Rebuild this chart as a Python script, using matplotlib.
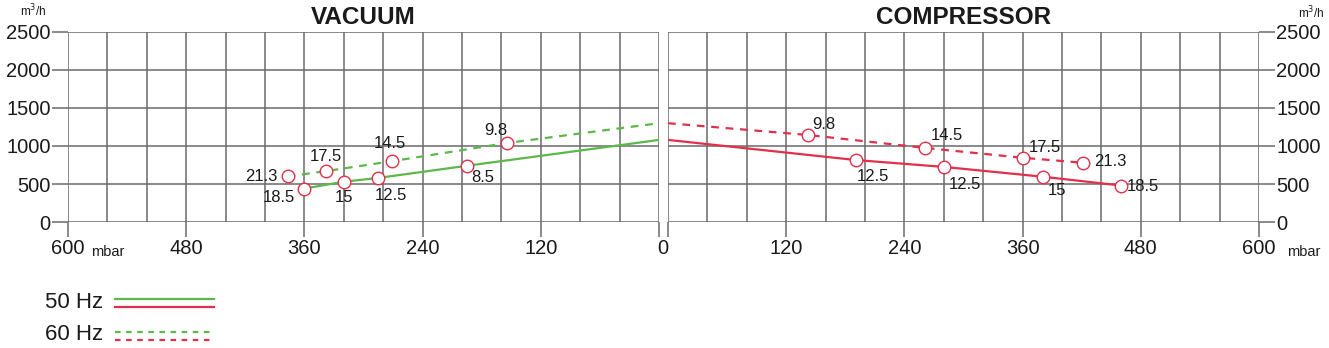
import matplotlib.pyplot as plt
import matplotlib.transforms as mtransforms
from matplotlib.lines import Line2D
from matplotlib.ticker import MultipleLocator

plt.rcParams['font.family'] = ['Liberation Sans', 'DejaVu Sans']

# colours picked off the original sheet
GREEN = '#5cb84a'
RED = '#e0304a'
GRID = '#6a6a6a'
TXT = '#1a1a1a'

# vacuum side, pressure in mbar, flow in m3/h (last point = line end at 0 mbar, no marker)
vac50_p = [360, 320, 285, 195, 0]
vac50_q = [440, 530, 580, 740, 1080]
vac50_kw = ['18.5', '15', '12.5', '8.5', '']
vac60_p = [377, 338, 271, 154, 0]
vac60_q = [600, 670, 800, 1040, 1300]
vac60_kw = ['21.3', '17.5', '14.5', '9.8', '']

# compressor side (first point = line start at 0 mbar, no marker)
com50_p = [0, 191, 280, 381, 460]
com50_q = [1080, 815, 725, 595, 480]
com50_kw = ['', '12.5', '12.5', '15', '18.5']
com60_p = [0, 142, 261, 360, 421]
com60_q = [1300, 1145, 975, 845, 780]
com60_kw = ['', '9.8', '14.5', '17.5', '21.3']

x_ticks = [0, 120, 240, 360, 480, 600]
y_ticks = [0, 500, 1000, 1500, 2000, 2500]

# label offsets in points (dx, dy, ha), same order as the points
vac50_off = [(-7, -6.5, 'right'), (0, -11.5, 'center'), (9, -13, 'center'), (11.5, -8.6, 'center'), None]
vac60_off = [(-7, 0, 'right'), (0, 10.5, 'center'), (-1.5, 13, 'center'), (-8, 9, 'center'), None]
com50_off = [None, (12, -11.5, 'center'), (15, -13, 'center'), (10, -10, 'center'), (4, -0.5, 'left')]
com60_off = [None, (11.5, 7.5, 'center'), (16, 8.6, 'center'), (16, 7.5, 'center'), (8, 0.7, 'left')]

fig = plt.figure(figsize=(13.29, 3.48), dpi=100)
ax_v = fig.add_axes([68 / 1329, 126 / 348, 591 / 1329, 190 / 348])
ax_c = fig.add_axes([668 / 1329, 126 / 348, 591 / 1329, 190 / 348])


def setup(ax, side):
    ax.set_ylim(0, 2500)
    ax.set_xticks(x_ticks)
    ax.set_yticks(y_ticks)
    ax.xaxis.set_minor_locator(MultipleLocator(40))
    ax.grid(True, which='both', color=GRID, lw=1.1)
    ax.tick_params(axis='x', which='major', length=11, width=1.1, color=GRID,
                   labelsize=14.5, labelcolor=TXT, pad=1.5)
    ax.tick_params(axis='x', which='minor', length=0)
    ax.tick_params(axis='y', length=11.5, width=1.1, color=GRID,
                   labelsize=14.5, labelcolor=TXT, pad=1)
    for s in ax.spines.values():
        s.set_visible(False)
    ax.set_axisbelow(True)
    if side == 'right':
        ax.yaxis.tick_right()


def curve(ax, p, q, kw, offs, color, ls):
    ax.plot(p, q, color=color, lw=1.6, ls=ls, dashes=(3.5, 3) if ls == '--' else (None, None),
            zorder=3)
    for x, y, k, o in zip(p, q, kw, offs):
        if o is None:
            continue
        ax.plot(x, y, 'o', ms=9, mfc='white', mec=RED, mew=1.0, zorder=4)
        ax.annotate(k, (x, y), xytext=(o[0], o[1]), textcoords='offset points',
                    ha=o[2], va='center', fontsize=12, color=TXT, zorder=5)


setup(ax_v, 'left')
ax_v.set_xlim(600, 0)
ax_v.set_title('VACUUM', fontsize=17.5, fontweight='bold', color=TXT, pad=6)
curve(ax_v, vac50_p, vac50_q, vac50_kw, vac50_off, GREEN, '-')
curve(ax_v, vac60_p, vac60_q, vac60_kw, vac60_off, GREEN, '--')

setup(ax_c, 'right')
ax_c.set_xlim(0, 600)
# the shared 0 is printed once, by the vacuum panel, nudged to sit between both panels
ax_c.set_xticklabels([''] + [str(t) for t in x_ticks[1:]])
fig.canvas.draw()
zero_lbl = ax_v.get_xticklabels()[0]
zero_lbl.set_transform(zero_lbl.get_transform() +
                       mtransforms.ScaledTranslation(4 / 100, 0, fig.dpi_scale_trans))
ax_c.set_title('COMPRESSOR', fontsize=17.5, fontweight='bold', color=TXT, pad=6)
curve(ax_c, com50_p, com50_q, com50_kw, com50_off, RED, '-')
curve(ax_c, com60_p, com60_q, com60_kw, com60_off, RED, '--')

# unit labels
fig.text(20 / 1329, 1 - 11 / 348, 'm$^3$/h', fontsize=8.5, color=TXT, va='center')
fig.text(1298 / 1329, 1 - 13 / 348, 'm$^3$/h', fontsize=8.5, color=TXT, va='center')
fig.text(91 / 1329, 1 - 252 / 348, 'mbar', fontsize=10.5, color=TXT, va='center')
fig.text(1287 / 1329, 1 - 252 / 348, 'mbar', fontsize=10.5, color=TXT, va='center')

# legend drawn by hand: two stacked lines per frequency
fig.text(45 / 1329, 1 - 302 / 348, '50 Hz', fontsize=16, color=TXT, va='center')
fig.text(45 / 1329, 1 - 334 / 348, '60 Hz', fontsize=16, color=TXT, va='center')
for yy, c, ls in [(299, GREEN, '-'), (307, RED, '-'), (332, GREEN, '--'), (340, RED, '--')]:
    ln = Line2D([115 / 1329, 214 / 1329], [1 - yy / 348, 1 - yy / 348], color=c, lw=1.6,
                ls=ls, transform=fig.transFigure)
    if ls == '--':
        ln.set_dashes((2.5, 2.5))
    fig.add_artist(ln)

fig.savefig('out.png', dpi=100, facecolor='white')
